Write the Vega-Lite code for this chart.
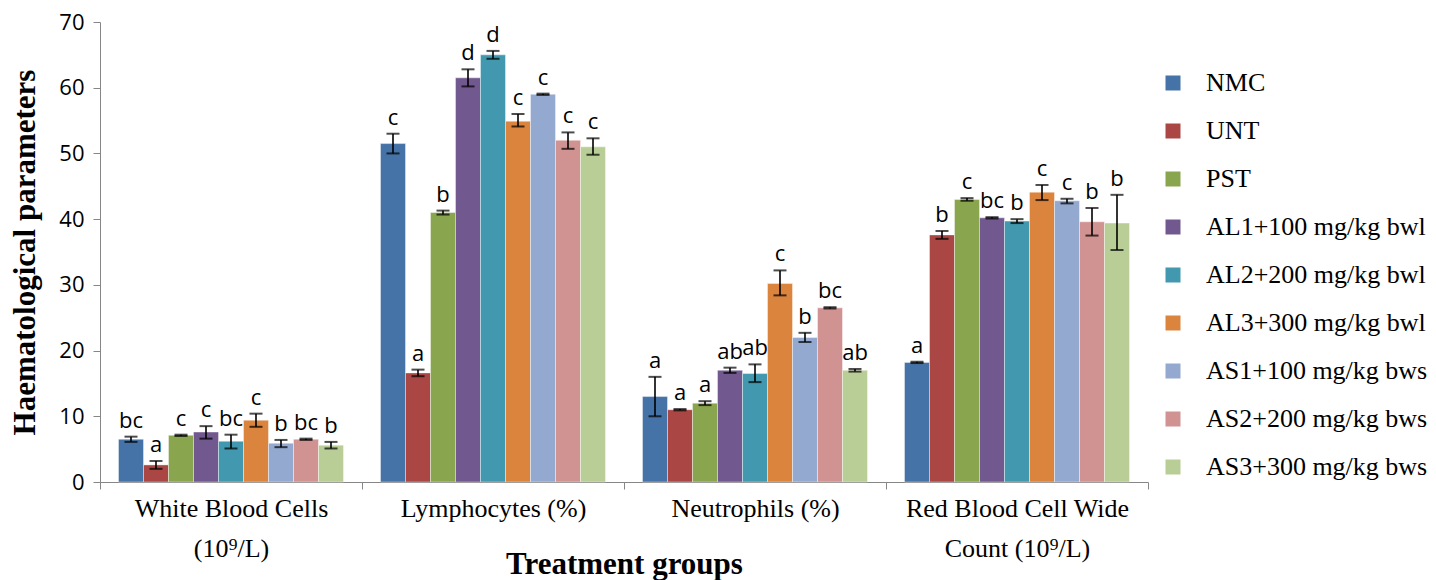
{
  "$schema": "https://vega.github.io/schema/vega-lite/v6.json",
  "width": 1048,
  "height": 460,
  "autosize": "none",
  "padding": {"left": 100, "top": 22, "right": 288, "bottom": 98},
  "background": "white",
  "config": {"view": {"stroke": null}, "axis": {"grid": false}},
  "data": {"values": [
    {"param": "WBC", "group": "NMC", "mean": 6.5, "lo": 6.1, "hi": 6.9, "sig": "bc"},
    {"param": "WBC", "group": "UNT", "mean": 2.6, "lo": 2.0, "hi": 3.2, "sig": "a"},
    {"param": "WBC", "group": "PST", "mean": 7.1, "lo": 7.0, "hi": 7.2, "sig": "c"},
    {"param": "WBC", "group": "AL1+100 mg/kg bwl", "mean": 7.6, "lo": 6.6, "hi": 8.5, "sig": "c"},
    {"param": "WBC", "group": "AL2+200 mg/kg bwl", "mean": 6.2, "lo": 5.1, "hi": 7.2, "sig": "bc"},
    {"param": "WBC", "group": "AL3+300 mg/kg bwl", "mean": 9.4, "lo": 8.4, "hi": 10.4, "sig": "c"},
    {"param": "WBC", "group": "AS1+100 mg/kg bws", "mean": 5.9, "lo": 5.3, "hi": 6.4, "sig": "b"},
    {"param": "WBC", "group": "AS2+200 mg/kg bws", "mean": 6.5, "lo": 6.4, "hi": 6.6, "sig": "bc"},
    {"param": "WBC", "group": "AS3+300 mg/kg bws", "mean": 5.6, "lo": 5.1, "hi": 6.1, "sig": "b"},
    {"param": "LYM", "group": "NMC", "mean": 51.5, "lo": 50.0, "hi": 53.0, "sig": "c"},
    {"param": "LYM", "group": "UNT", "mean": 16.6, "lo": 16.1, "hi": 17.1, "sig": "a"},
    {"param": "LYM", "group": "PST", "mean": 41.0, "lo": 40.7, "hi": 41.3, "sig": "b"},
    {"param": "LYM", "group": "AL1+100 mg/kg bwl", "mean": 61.5, "lo": 60.2, "hi": 62.8, "sig": "d"},
    {"param": "LYM", "group": "AL2+200 mg/kg bwl", "mean": 65.0, "lo": 64.4, "hi": 65.6, "sig": "d"},
    {"param": "LYM", "group": "AL3+300 mg/kg bwl", "mean": 54.9, "lo": 54.1, "hi": 56.0, "sig": "c"},
    {"param": "LYM", "group": "AS1+100 mg/kg bws", "mean": 59.0, "lo": 58.9, "hi": 59.1, "sig": "c"},
    {"param": "LYM", "group": "AS2+200 mg/kg bws", "mean": 52.0, "lo": 50.7, "hi": 53.2, "sig": "c"},
    {"param": "LYM", "group": "AS3+300 mg/kg bws", "mean": 51.0, "lo": 49.8, "hi": 52.3, "sig": "c"},
    {"param": "NEU", "group": "NMC", "mean": 13.0, "lo": 10.0, "hi": 16.0, "sig": "a"},
    {"param": "NEU", "group": "UNT", "mean": 11.0, "lo": 10.9, "hi": 11.1, "sig": "a"},
    {"param": "NEU", "group": "PST", "mean": 12.0, "lo": 11.7, "hi": 12.3, "sig": "a"},
    {"param": "NEU", "group": "AL1+100 mg/kg bwl", "mean": 17.0, "lo": 16.6, "hi": 17.4, "sig": "ab"},
    {"param": "NEU", "group": "AL2+200 mg/kg bwl", "mean": 16.5, "lo": 15.2, "hi": 17.9, "sig": "ab"},
    {"param": "NEU", "group": "AL3+300 mg/kg bwl", "mean": 30.2, "lo": 28.4, "hi": 32.2, "sig": "c"},
    {"param": "NEU", "group": "AS1+100 mg/kg bws", "mean": 22.0, "lo": 21.3, "hi": 22.7, "sig": "b"},
    {"param": "NEU", "group": "AS2+200 mg/kg bws", "mean": 26.5, "lo": 26.4, "hi": 26.6, "sig": "bc"},
    {"param": "NEU", "group": "AS3+300 mg/kg bws", "mean": 17.0, "lo": 16.8, "hi": 17.2, "sig": "ab"},
    {"param": "RBC", "group": "NMC", "mean": 18.2, "lo": 18.1, "hi": 18.3, "sig": "a"},
    {"param": "RBC", "group": "UNT", "mean": 37.6, "lo": 37.0, "hi": 38.2, "sig": "b"},
    {"param": "RBC", "group": "PST", "mean": 43.0, "lo": 42.8, "hi": 43.2, "sig": "c"},
    {"param": "RBC", "group": "AL1+100 mg/kg bwl", "mean": 40.2, "lo": 40.1, "hi": 40.3, "sig": "bc"},
    {"param": "RBC", "group": "AL2+200 mg/kg bwl", "mean": 39.7, "lo": 39.4, "hi": 40.0, "sig": "b"},
    {"param": "RBC", "group": "AL3+300 mg/kg bwl", "mean": 44.1, "lo": 42.9, "hi": 45.2, "sig": "c"},
    {"param": "RBC", "group": "AS1+100 mg/kg bws", "mean": 42.8, "lo": 42.4, "hi": 43.1, "sig": "c"},
    {"param": "RBC", "group": "AS2+200 mg/kg bws", "mean": 39.6, "lo": 37.5, "hi": 41.7, "sig": "b"},
    {"param": "RBC", "group": "AS3+300 mg/kg bws", "mean": 39.4, "lo": 35.3, "hi": 43.7, "sig": "b"}
  ]},
  "encoding": {
    "x": {
      "field": "param", "type": "nominal", "sort": ["WBC", "LYM", "NEU", "RBC"],
      "scale": {"paddingInner": 0, "paddingOuter": 0},
      "axis": {
        "title": "Treatment groups",
        "titleFont": "Liberation Serif", "titleFontSize": 31, "titleFontWeight": "bold", "titleColor": "black",
        "titleY": 91, "titleBaseline": "alphabetic",
        "labelAngle": 0, "labelFont": "Liberation Serif", "labelFontSize": 26, "labelColor": "black",
        "labelLineHeight": 40, "labelPadding": 6, "labelBaseline": "top", "labelDx": -8,
        "labelExpr": "datum.value == 'WBC' ? ['White Blood Cells', '(10⁹/L)'] : datum.value == 'LYM' ? 'Lymphocytes (%)' : datum.value == 'NEU' ? 'Neutrophils (%)' : datum.value == 'RBC' ? ['Red Blood Cell Wide', 'Count (10⁹/L)'] : ''",
        "labelLimit": 0,
        "tickBand": "extent", "tickSize": 7, "tickColor": "#868686", "domainColor": "#868686"
      }
    },
    "xOffset": {
      "field": "group", "type": "nominal",
      "sort": ["NMC", "UNT", "PST", "AL1+100 mg/kg bwl", "AL2+200 mg/kg bwl", "AL3+300 mg/kg bwl", "AS1+100 mg/kg bws", "AS2+200 mg/kg bws", "AS3+300 mg/kg bws"],
      "scale": {"paddingInner": 0, "paddingOuter": 0.74}
    }
  },
  "layer": [
    {
      "mark": {"type": "bar", "stroke": "white", "strokeOpacity": 0.5, "strokeWidth": 0.8},
      "encoding": {
        "y": {
          "field": "mean", "type": "quantitative",
          "scale": {"domain": [0, 70], "nice": false},
          "axis": {
            "values": [0, 10, 20, 30, 40, 50, 60, 70],
            "title": "Haematological parameters",
            "titleFont": "Liberation Serif", "titleFontSize": 31, "titleFontWeight": "bold", "titleColor": "black",
            "titleX": -66, "titleY": 230, "titleAngle": -90, "titleBaseline": "alphabetic", "titleAlign": "center",
            "labelFont": "Open Sans", "labelFontSize": 22, "labelColor": "black", "labelPadding": 9,
            "tickSize": 7, "tickColor": "#868686", "domainColor": "#868686"
          }
        },
        "color": {
          "field": "group", "type": "nominal",
          "scale": {
            "domain": ["NMC", "UNT", "PST", "AL1+100 mg/kg bwl", "AL2+200 mg/kg bwl", "AL3+300 mg/kg bwl", "AS1+100 mg/kg bws", "AS2+200 mg/kg bws", "AS3+300 mg/kg bws"],
            "range": ["#4572A7", "#AA4643", "#89A54E", "#71588F", "#4198AF", "#DB843D", "#93A9CF", "#D19392", "#B9CD96"]
          },
          "legend": {
            "title": null, "orient": "none", "legendX": 1060, "legendY": 48,
            "symbolType": "square", "symbolSize": 225, "symbolStrokeWidth": 0,
            "labelFont": "Liberation Serif", "labelFontSize": 26, "labelColor": "black",
            "labelLimit": 0, "labelOffset": 20, "rowPadding": 22
          }
        }
      }
    },
    {
      "mark": {"type": "rule", "color": "black", "strokeWidth": 1.6},
      "encoding": {
        "y": {"field": "lo", "type": "quantitative"},
        "y2": {"field": "hi"}
      }
    },
    {
      "mark": {"type": "tick", "color": "black", "thickness": 2, "size": 13},
      "encoding": {"y": {"field": "lo", "type": "quantitative"}}
    },
    {
      "mark": {"type": "tick", "color": "black", "thickness": 2, "size": 13},
      "encoding": {"y": {"field": "hi", "type": "quantitative"}}
    },
    {
      "mark": {"type": "text", "font": "Open Sans", "fontSize": 22, "color": "black", "baseline": "alphabetic", "dy": -9},
      "encoding": {
        "y": {"field": "hi", "type": "quantitative"},
        "text": {"field": "sig"}
      }
    }
  ]
}
